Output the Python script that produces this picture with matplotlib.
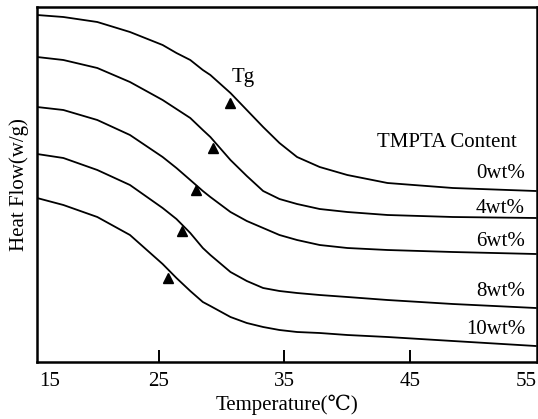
import matplotlib
matplotlib.use("Agg")
import matplotlib.pyplot as plt

temps = [15.3, 17.4, 20.1, 22.7, 25.3, 26.4, 27.5, 28.5, 29.1, 30.7, 32.0,
         33.3, 34.6, 36.0, 37.8, 40.0, 43.2, 48.4, 55.0]

# Heat flow (arbitrary units, curves stacked/offset)
hf_0 = [347, 345, 340, 330, 317, 309, 302, 292, 287, 269, 252, 235, 219, 205, 195, 187, 179, 174, 171]
hf_4 = [305, 302, 294, 280, 262, 253, 244, 232, 225, 202, 186, 171, 163, 158, 153, 150, 147, 145, 144]
hf_6 = [255, 252, 242, 227, 205, 194, 182, 171, 165, 150, 141, 134, 127, 122, 117, 114, 112, 110, 108]
hf_8 = [208, 204, 192, 177, 154, 143, 129, 114, 107, 90, 81, 74, 71, 69, 67, 65, 62, 58, 54]
hf_10 = [164, 157, 145, 127, 98, 84, 71, 60, 56, 45, 39, 35, 32, 30, 29, 27, 25, 21, 16]

series = [hf_0, hf_4, hf_6, hf_8, hf_10]
labels = ["0wt%", "4wt%", "6wt%", "8wt%", "10wt%"]
label_y = [188, 153, 120, 71, 32]  # heat-flow position of label text

# Tg markers
tg_temp = [30.65, 29.3, 27.95, 26.83, 25.72]
tg_hf = [259, 214, 172, 131, 84]

xtick_pos = [16.3, 25, 35, 45, 54.2]
xtick_labels = ["15", "25", "35", "45", "55"]

serif = ["Liberation Serif", "DejaVu Serif", "DejaVu Sans"]
fs = 15

fig = plt.figure(figsize=(5.38, 4.19), dpi=100)
ax = fig.add_axes([37 / 538, 1 - 362 / 419, 500 / 538, 355 / 419])

for s in series:
    ax.plot(temps, s, color="black", lw=1.3, solid_joinstyle="round")

ax.plot(tg_temp, tg_hf, linestyle="none", marker="^", markersize=7,
        color="black")

ax.set_xlim(15.3, 55.1)
ax.set_ylim(0, 355)

ax.set_xticks(xtick_pos)
ax.set_xticklabels(xtick_labels, family=serif, fontsize=fs)
ax.set_yticks([])
ax.tick_params(axis="x", direction="in", length=9, width=1.4, pad=7)
ticks = ax.xaxis.get_major_ticks()
ticks[0].tick1line.set_visible(False)
ticks[-1].tick1line.set_visible(False)

for sp in ax.spines.values():
    sp.set_linewidth(1.8)

for lab, y in zip(labels, label_y):
    ax.text(54.15, y, lab, ha="right", va="center", family=serif, fontsize=fs)
ax.text(53.5, 219, "TMPTA Content", ha="right", va="center", family=serif,
        fontsize=fs)
ax.text(31.7, 284, "Tg", ha="center", va="center", family=serif, fontsize=fs)

ax.set_xlabel("Temperature(℃)", family=serif, fontsize=fs, labelpad=3)
ax.set_ylabel("Heat Flow(w/g)", family=serif, fontsize=fs, labelpad=6)

fig.savefig("out.png", dpi=100)
